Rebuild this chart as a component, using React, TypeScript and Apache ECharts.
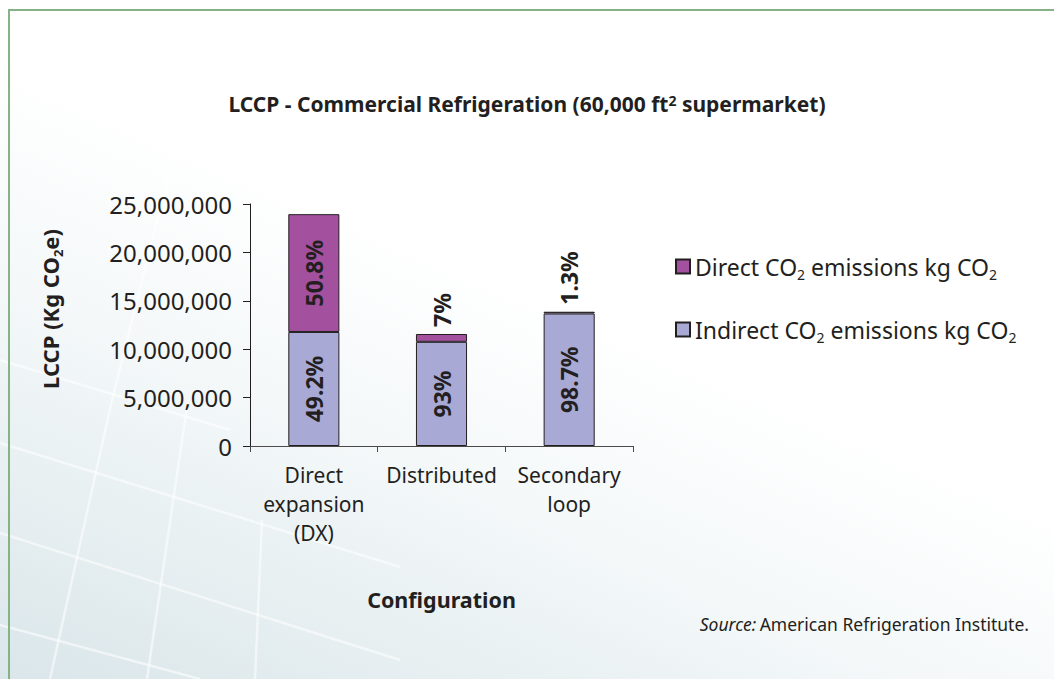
import React, { useEffect, useRef } from "react";
import * as echarts from "echarts";

const categories = ["Direct\nexpansion\n(DX)", "Distributed", "Secondary\nloop"];
const indirectValues = [11780000, 10760000, 13690000];
const directValues = [12170000, 810000, 180000];
const indirectPct = ["49.2%", "93%", "98.7%"];
const directPct = ["50.8%", "7%", "1.3%"];
const yTicks = { min: 0, max: 25000000, interval: 5000000 };

const FONT = "'Noto Sans', sans-serif";
const TXT = "#231f20";

export default function App() {
  const ref = useRef<HTMLDivElement>(null);

  useEffect(() => {
    if (!ref.current) return;
    document.body.style.margin = "0";
    const chart = echarts.init(ref.current, undefined, { renderer: "svg" });

    const labelBase = {
      show: true,
      rotate: 90,
      fontFamily: FONT,
      fontWeight: "bold" as const,
      fontSize: 23,
      color: TXT,
    };
    const insideLabel = { ...labelBase, position: "inside", align: "center", verticalAlign: "middle" };
    const topLabel = { ...labelBase, position: "top", align: "left", verticalAlign: "middle", distance: 7 };

    const indirectData = indirectValues.map((v, i) => ({
      value: v,
      label: { ...insideLabel, formatter: indirectPct[i] },
    }));
    const directData = directValues.map((v, i) => ({
      value: v,
      label: { ...(v > 5000000 ? insideLabel : topLabel), formatter: directPct[i] },
    }));

    const bgLines = [
      [[50, 679], [112, 400]],
      [[112, 400], [175, 150]],
      [[147, 679], [188, 400]],
      [[255, 679], [262, 520]],
      [[0, 443], [400, 567]],
      [[0, 533], [400, 660]],
      [[0, 625], [200, 679]],
      [[0, 360], [230, 430]],
    ];

    const option: any = {
      animation: false,
      backgroundColor: "transparent",
      graphic: [
        {
          type: "rect",
          z: -10,
          silent: true,
          shape: { x: 0, y: 0, width: 1054, height: 679 },
          style: {
            fill: new echarts.graphic.LinearGradient(0, 1, 0.6, 0.1, [
              { offset: 0, color: "#dae6ea" },
              { offset: 0.45, color: "#f4f8f9" },
              { offset: 0.7, color: "#ffffff" },
              { offset: 1, color: "#ffffff" },
            ]),
          },
        },
        ...bgLines.map((l) => ({
          type: "line",
          z: -9,
          silent: true,
          shape: { x1: l[0][0], y1: l[0][1], x2: l[1][0], y2: l[1][1] },
          style: { stroke: "rgba(255,255,255,0.55)", lineWidth: 2.5 },
        })),
        {
          type: "polyline",
          z: -8,
          silent: true,
          shape: { points: [[9, 679], [9, 10], [1054, 10]] },
          style: { stroke: "#86b286", lineWidth: 2, fill: null },
        },
        {
          type: "text",
          left: "center",
          top: 93,
          style: {
            text: "LCCP - Commercial Refrigeration (60,000 ft{sup|2} supermarket)",
            fontFamily: FONT,
            fontWeight: "bold",
            fontSize: 21,
            fill: TXT,
            rich: {
              sup: { fontSize: 14, fontWeight: "bold", fontFamily: FONT, verticalAlign: "top", fill: TXT },
            },
          },
        },
        {
          type: "text",
          x: 50,
          y: 309,
          rotation: Math.PI / 2,
          style: {
            text: "{b|LCCP (Kg CO}{s|2}{b|e)}",
            align: "center",
            verticalAlign: "middle",
            rich: {
              b: { fontFamily: FONT, fontWeight: "bold", fontSize: 22, fill: TXT, lineHeight: 28 },
              s: { fontFamily: FONT, fontWeight: "bold", fontSize: 13, fill: TXT, lineHeight: 13, verticalAlign: "bottom" },
            },
          },
        },
        {
          type: "text",
          x: 1029,
          y: 624,
          style: {
            text: "{i|Source:} {r|American Refrigeration Institute.}",
            align: "right",
            verticalAlign: "middle",
            rich: {
              i: { fontFamily: FONT, fontStyle: "italic", fontSize: 17.5, fill: TXT },
              r: { fontFamily: FONT, fontSize: 17.5, fill: TXT },
            },
          },
        },
      ],
      legend: {
        orient: "vertical",
        left: 670,
        top: 250,
        itemWidth: 14,
        itemHeight: 14,
        itemGap: 37,
        icon: "rect",
        data: ["Direct", "Indirect"],
        formatter: (name: string) =>
          name === "Direct"
            ? "{t|Direct CO}{s|2}{t| emissions kg CO}{s|2}"
            : "{t|Indirect CO}{s|2}{t| emissions kg CO}{s|2}",
        textStyle: {
          rich: {
            t: { fontFamily: FONT, fontSize: 23, color: TXT, lineHeight: 29 },
            s: { fontFamily: FONT, fontSize: 14, color: TXT, lineHeight: 14, verticalAlign: "bottom" },
          },
        },
      },
      grid: { left: 250, top: 204, right: 421, bottom: 233, containLabel: false },
      xAxis: {
        type: "category",
        data: categories,
        name: "Configuration",
        nameLocation: "middle",
        nameGap: 142,
        nameTextStyle: { fontFamily: FONT, fontWeight: "bold", fontSize: 21.5, color: TXT },
        axisLine: { lineStyle: { color: "#4a4a4a", width: 1 } },
        axisTick: { show: true, length: 6, lineStyle: { color: "#4a4a4a" } },
        axisLabel: { fontFamily: FONT, fontSize: 21, color: TXT, lineHeight: 29, margin: 14, interval: 0 },
      },
      yAxis: {
        type: "value",
        min: yTicks.min,
        max: yTicks.max,
        interval: yTicks.interval,
        axisLine: { show: true, lineStyle: { color: "#231f20", width: 1 } },
        axisTick: { show: true, length: 7, lineStyle: { color: "#231f20" } },
        splitLine: { show: false },
        axisLabel: {
          fontFamily: FONT,
          fontSize: 24,
          color: TXT,
          margin: 18,
          formatter: (v: number) => v.toLocaleString("en-US"),
        },
      },
      series: [
        {
          name: "Indirect",
          type: "bar",
          stack: "total",
          barWidth: "40%",
          data: indirectData,
          itemStyle: { color: "#a9a9d5", borderColor: "#231f20", borderWidth: 1 },
        },
        {
          name: "Direct",
          type: "bar",
          stack: "total",
          barWidth: "40%",
          data: directData,
          itemStyle: { color: "#a3519f", borderColor: "#231f20", borderWidth: 1 },
        },
      ],
    };

    chart.setOption(option);
    return () => chart.dispose();
  }, []);

  return <div ref={ref} style={{ position: "absolute", left: 0, top: 0, width: 1054, height: 679 }} />;
}
